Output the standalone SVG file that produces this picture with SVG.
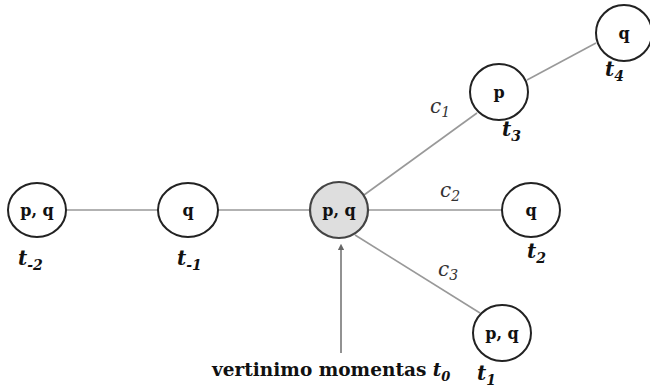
<svg xmlns="http://www.w3.org/2000/svg" width="650" height="391" viewBox="0 0 650 391">
<style>
text{font-family:"DejaVu Serif","Liberation Serif",serif}
.n{fill:#fff;stroke:#222;stroke-width:2}
.c0{fill:#dedede;stroke:#444;stroke-width:2.2}
.nl{font-weight:bold;font-size:16px;text-anchor:middle;fill:#111}
.t{font-weight:bold;font-style:italic;font-size:20px;fill:#111}
.c{font-style:italic;font-size:20px;fill:#333}
.sub{font-size:14px}
.e{stroke:#999;stroke-width:1.6;fill:none}
</style>
<defs>
<marker id="ah" viewBox="0 0 6 6" refX="3" refY="3" markerWidth="4" markerHeight="4" orient="auto">
<path d="M0,0 L6,3 L0,6 z" fill="#666"/>
</marker>
</defs>
<g id="connectors">
<line class="e" x1="66" y1="210" x2="159" y2="210"/>
<line class="e" x1="218" y1="210" x2="310" y2="210"/>
<line class="e" x1="368" y1="210" x2="502" y2="210"/>
<line class="e" x1="364" y1="195" x2="477" y2="113"/>
<line class="e" x1="355" y1="235" x2="480" y2="313"/>
<line class="e" x1="527" y1="80" x2="596" y2="43"/>
<line x1="341" y1="353" x2="341" y2="247" stroke="#777" stroke-width="1.6" marker-end="url(#ah)"/>
</g>
<g id="n_tm2">
<ellipse class="n" cx="37" cy="210" rx="29" ry="27"/>
<text class="nl" x="37" y="216">p, q</text>
<text class="t" x="18" y="265">t<tspan class="sub" dy="5">-2</tspan></text>
</g>
<g id="n_tm1">
<ellipse class="n" cx="188" cy="210" rx="30" ry="27"/>
<text class="nl" x="188" y="216">q</text>
<text class="t" x="177" y="265">t<tspan class="sub" dy="5">-1</tspan></text>
</g>
<g id="n_t0">
<ellipse class="c0" cx="339" cy="210" rx="29" ry="28"/>
<text class="nl" x="339" y="216">p, q</text>
</g>
<g id="n_t2">
<ellipse class="n" cx="531" cy="210" rx="29" ry="27"/>
<text class="nl" x="531" y="216">q</text>
<text class="t" x="527" y="258">t<tspan class="sub" dy="5">2</tspan></text>
</g>
<g id="n_t1">
<ellipse class="n" cx="502" cy="333" rx="29" ry="28"/>
<text class="nl" x="502" y="339">p, q</text>
<text class="t" x="477" y="380">t<tspan class="sub" dy="5">1</tspan></text>
</g>
<g id="n_t3">
<ellipse class="n" cx="499" cy="92" rx="29" ry="28"/>
<text class="nl" x="499" y="98">p</text>
<text class="t" x="502" y="136">t<tspan class="sub" dy="5">3</tspan></text>
</g>
<g id="n_t4">
<ellipse class="n" cx="624" cy="33" rx="28" ry="28"/>
<text class="nl" x="624" y="39">q</text>
<text class="t" x="605" y="76">t<tspan class="sub" dy="5">4</tspan></text>
</g>
<g id="labels">
<text class="c" x="430" y="113">c<tspan class="sub" dy="4">1</tspan></text>
<text class="c" x="440" y="197">c<tspan class="sub" dy="4">2</tspan></text>
<text class="c" x="438" y="276">c<tspan class="sub" dy="4">3</tspan></text>
<text x="212" y="376" font-weight="bold" font-size="18.5" fill="#111">vertinimo momentas <tspan font-style="italic">t</tspan><tspan font-style="italic" font-size="13" dy="5">0</tspan></text>
</g>
</svg>
